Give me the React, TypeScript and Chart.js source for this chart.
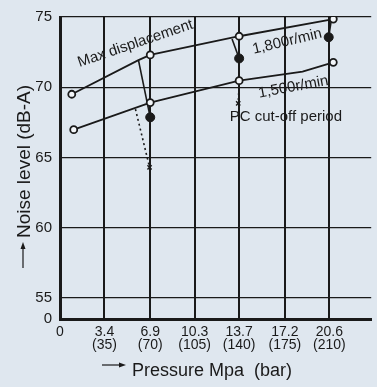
import { useEffect, useRef } from 'react';
import { Chart, registerables } from 'chart.js';

Chart.register(...registerables);

// ---- data ----
const pressureTicks = [0, 3.4, 6.9, 10.3, 13.7, 17.2, 20.6];
const barTicks = ['', '(35)', '(70)', '(105)', '(140)', '(175)', '(210)'];
const noiseTicks = [53.5, 55, 60, 65, 70, 75];
const noiseTickLabels = ['0', '55', '60', '65', '70', '75'];

// Max displacement, 1,800 r/min
const maxDispPressure = [0.9, 6.0, 6.9, 13.7, 20.9];
const maxDispNoise = [69.5, 71.93, 72.3, 73.63, 74.85];
const maxDispMarker = [true, false, true, true, true];

// 1,500 r/min
const rpm1500Pressure = [1.05, 6.9, 13.7, 18.55, 20.9];
const rpm1500Noise = [66.98, 68.91, 70.47, 71.11, 71.77];
const rpm1500Marker = [true, true, true, false, true];

// PC cut-off drops (solid, ending in filled dot)
const cut69Pressure = [6.0, 6.9];
const cut69Noise = [71.93, 67.86];
const cut137Pressure = [13.16, 13.7];
const cut137Noise = [73.44, 72.05];
const cut206Pressure = [20.75, 20.55];
const cut206Noise = [74.8, 73.56];

// PC cut-off drops (dotted, ending in cross)
const dot69Pressure = [5.77, 6.85];
const dot69Noise = [68.44, 64.3];
const dot137Pressure = [13.7, 13.63];
const dot137Noise = [70.3, 68.85];

const BG = '#dfe7ef';
const INK = '#1a1a1a';
const FONT = '"Liberation Sans", Arial, Helvetica, sans-serif';

const pts = (xs: number[], ys: number[]) => xs.map((x, i) => ({ x, y: ys[i] }));

const decor = {
  id: 'decor',
  beforeDraw(chart: any) {
    const ctx = chart.ctx;
    ctx.save();
    ctx.fillStyle = BG;
    ctx.fillRect(0, 0, chart.width, chart.height);
    ctx.restore();
  },
  afterDraw(chart: any) {
    const ctx = chart.ctx;
    const xs = chart.scales.x;
    const ys = chart.scales.y;
    const ca = chart.chartArea;
    const P = (x: number, y: number) => [xs.getPixelForValue(x), ys.getPixelForValue(y)];
    ctx.save();
    ctx.fillStyle = INK;
    ctx.strokeStyle = INK;

    const rotText = (text: string, x: number, y: number, deg: number, size: number) => {
      const [px, py] = P(x, y);
      ctx.save();
      ctx.translate(px, py);
      ctx.rotate((deg * Math.PI) / 180);
      ctx.font = `${size}px ${FONT}`;
      ctx.textAlign = 'left';
      ctx.textBaseline = 'alphabetic';
      ctx.fillText(text, 0, 0);
      ctx.restore();
    };
    rotText('Max displacement', 1.5, 71.44, -18.8, 15);
    rotText('1,800r/min', 14.81, 72.38, -13.5, 15);
    rotText('1,500r/min', 15.24, 69.26, -10.5, 15);
    rotText('PC cut-off period', 12.98, 67.58, 0, 15);

    // axis titles
    ctx.font = `18px ${FONT}`;
    ctx.textAlign = 'left';
    ctx.textBaseline = 'alphabetic';
    const xtx = ca.left + 72;
    const xty = chart.height - 11;
    ctx.fillText('Pressure Mpa  (bar)', xtx, xty);
    // x arrow
    ctx.lineWidth = 1.2;
    ctx.beginPath();
    ctx.moveTo(xtx - 30, xty - 11);
    ctx.lineTo(xtx - 10, xty - 11);
    ctx.stroke();
    ctx.beginPath();
    ctx.moveTo(xtx - 6, xty - 11);
    ctx.lineTo(xtx - 13, xty - 13.5);
    ctx.lineTo(xtx - 13, xty - 8.5);
    ctx.closePath();
    ctx.fill();

    // y title
    const ytx = 30;
    const yty = ca.top + 221;
    ctx.save();
    ctx.translate(ytx, yty);
    ctx.rotate(-Math.PI / 2);
    ctx.font = `19px ${FONT}`;
    ctx.fillText('Noise level (dB-A)', 0, 0);
    ctx.restore();
    // y arrow
    ctx.beginPath();
    ctx.moveTo(ytx - 7, yty + 30);
    ctx.lineTo(ytx - 7, yty + 9);
    ctx.stroke();
    ctx.beginPath();
    ctx.moveTo(ytx - 7, yty + 4);
    ctx.lineTo(ytx - 9.5, yty + 11);
    ctx.lineTo(ytx - 4.5, yty + 11);
    ctx.closePath();
    ctx.fill();
    ctx.restore();
  },
};

export default function App() {
  const ref = useRef<HTMLCanvasElement | null>(null);
  useEffect(() => {
    document.body.style.margin = '0';
    document.body.style.background = BG;
    const canvas = ref.current!;
    const lineDs = (label: string, xs: number[], ys: number[], marker: boolean[]) => ({
      label,
      data: pts(xs, ys),
      borderColor: INK,
      borderWidth: 1.8,
      pointRadius: marker.map((m) => (m ? 3.5 : 0)),
      pointBorderWidth: 1.8,
      pointBorderColor: INK,
      pointBackgroundColor: '#f3f6f9',
      tension: 0,
      fill: false,
    });
    const dropDs = (label: string, xs: number[], ys: number[]) => ({
      label,
      data: pts(xs, ys),
      borderColor: INK,
      borderWidth: 1.6,
      pointRadius: [0, 4.5],
      pointBorderWidth: 1,
      pointBorderColor: INK,
      pointBackgroundColor: INK,
      tension: 0,
      fill: false,
    });
    const dotDs = (label: string, xs: number[], ys: number[]) => ({
      label,
      data: pts(xs, ys),
      borderColor: INK,
      borderWidth: 1.6,
      borderDash: [2, 3],
      pointStyle: 'crossRot',
      pointRadius: [0, 3],
      pointBorderWidth: 1.5,
      pointBorderColor: INK,
      tension: 0,
      fill: false,
    });
    const chart = new Chart(canvas, {
      type: 'line',
      data: {
        datasets: [
          lineDs('1,800r/min', maxDispPressure, maxDispNoise, maxDispMarker),
          lineDs('1,500r/min', rpm1500Pressure, rpm1500Noise, rpm1500Marker),
          dropDs('cut-off 6.9', cut69Pressure, cut69Noise),
          dropDs('cut-off 13.7', cut137Pressure, cut137Noise),
          dropDs('cut-off 20.6', cut206Pressure, cut206Noise),
          dotDs('cut-off 6.9 (1,500)', dot69Pressure, dot69Noise),
          dotDs('cut-off 13.7 (1,500)', dot137Pressure, dot137Noise),
        ] as any,
      },
      options: {
        animation: false,
        responsive: false,
        layout: { padding: { top: 11, left: 0, right: 0, bottom: 0 } },
        plugins: { legend: { display: false }, tooltip: { enabled: false } },
        scales: {
          x: {
            type: 'linear',
            min: 0,
            max: 23.8,
            afterBuildTicks: (s: any) => {
              s.ticks = pressureTicks.map((v) => ({ value: v }));
            },
            afterFit: (s: any) => {
              s.height = 68;
            },
            grid: { color: INK, lineWidth: 2, drawTicks: false },
            border: { color: INK, width: 3 },
            ticks: {
              autoSkip: false,
              maxRotation: 0,
              padding: 6,
              color: INK,
              font: { family: FONT, size: 14, lineHeight: 0.95 },
              callback: (v: any) => {
                const i = pressureTicks.indexOf(Number(v));
                return i <= 0 ? '0' : [String(pressureTicks[i]), barTicks[i]];
              },
            },
          },
          y: {
            type: 'linear',
            min: 53.5,
            max: 75,
            afterBuildTicks: (s: any) => {
              s.ticks = noiseTicks.map((v) => ({ value: v }));
            },
            afterFit: (s: any) => {
              s.width = 60;
            },
            grid: { color: INK, lineWidth: 1.3, drawTicks: false },
            border: { color: INK, width: 3 },
            ticks: {
              padding: 8,
              color: INK,
              font: { family: FONT, size: 15 },
              callback: (v: any) => noiseTickLabels[noiseTicks.indexOf(Number(v))],
            },
          },
        },
      },
      plugins: [decor],
    } as any);
    return () => chart.destroy();
  }, []);
  return <canvas ref={ref} width={377} height={387} style={{ display: 'block' }} />;
}
